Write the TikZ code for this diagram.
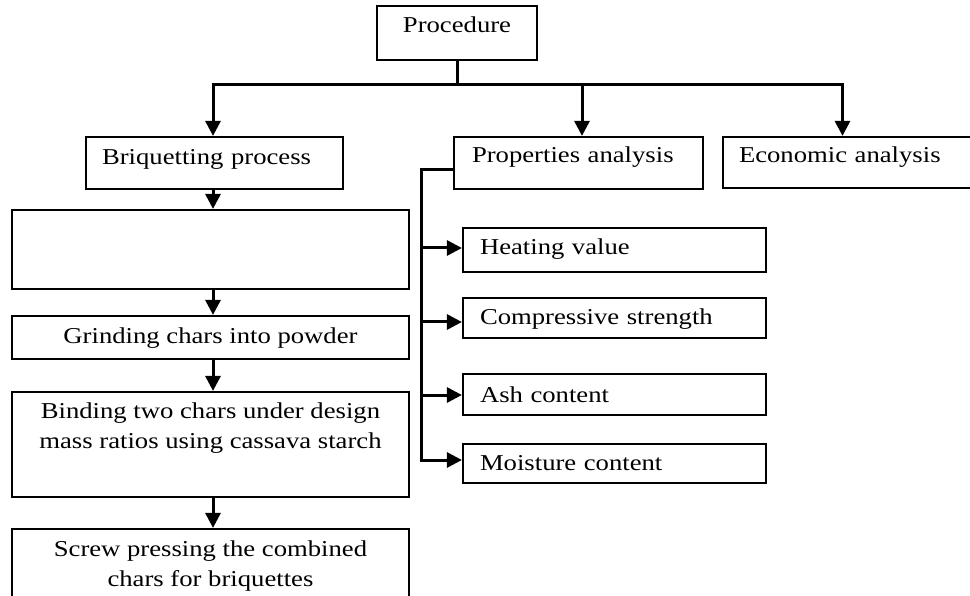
\documentclass[tikz,border=0pt]{standalone}
\usepackage{fontspec}
\setmainfont{Liberation Serif}[FakeStretch=1.175]
\usetikzlibrary{arrows.meta}
\newcommand\tf{\fontsize{22.7}{30.5}\selectfont}
\tikzset{
  box/.style={draw, line width=2.2pt, rectangle, inner ysep=0pt, font=\tf},
  lbox/.style={box, anchor=base, align=left, inner xsep=17pt, text width=#1},
  txtblk/.style={inner sep=0pt, font=\tf, align=center, anchor=north},
  conn/.style={line width=3pt},
  arr/.style={line width=3pt, -{Triangle[length=15pt,width=15pt]}},
}
\begin{document}
\begin{tikzpicture}[x=1pt,y=-1pt]
\useasboundingbox[fill=white] (0,0) rectangle (970,596);

% top level
\node[box, anchor=base, inner xsep=0pt, minimum width=160pt, text height=27pt, text depth=27pt] (proc) at (457,33) {Procedure};

\node[lbox=225pt, inner xsep=16pt, text height=28pt, text depth=24pt] (briq) at (214.5,165) {Briquetting process};
\node[lbox=213pt, inner xsep=18pt, text height=26pt, text depth=26pt] (prop) at (578.5,163) {Properties analysis};
\node[lbox=230pt, inner xsep=16pt, text height=26pt, text depth=25pt] (econ) at (854,163) {Economic analysis};

% left column
\node[box, minimum width=397pt, minimum height=79pt, inner sep=0pt] (blank) at (210.5,249.5) {};
\node[box, anchor=base, inner xsep=0pt, minimum width=397pt, text height=27pt, text depth=16pt] (grind) at (210.5,343) {Grinding chars into powder};
\node[box, minimum width=397pt, minimum height=105pt, inner sep=0pt] (bind) at (210.5,444.5) {};
\node[txtblk] (bindtxt) at (210.5,402.5) {Binding two chars under design\\mass ratios using cassava starch};
\node[box, minimum width=397pt, minimum height=90pt, inner sep=0pt] (screw) at (210.5,574) {};
\node[txtblk] (screwtxt) at (210.5,540.5) {Screw pressing the combined\\chars for briquettes};

% properties items
\node[lbox=269pt, text height=27pt, text depth=17pt] (heat) at (614.5,255) {Heating value};
\node[lbox=269pt, text height=27pt, text depth=13pt] (comp) at (614.5,325) {Compressive strength};
\node[lbox=269pt, text height=28pt, text depth=13pt] (ash) at (614.5,402) {Ash content};
\node[lbox=269pt, text height=26pt, text depth=13pt] (moist) at (614.5,470) {Moisture content};

% top connectors
\coordinate (hub) at (457,85);
\coordinate (busL) at (213,85);
\coordinate (busM) at (582,85);
\coordinate (busR) at (842.5,85);
\draw[conn] (proc.south) -- (hub);
\draw[conn] ([xshift=-1.5pt]busL) -- ([xshift=1.5pt]busR);
\draw[arr] (busL) -- (busL |- briq.north);
\draw[arr] (busM) -- (busM |- prop.north);
\draw[arr] (busR) -- (busR |- econ.north);

% left column connectors
\coordinate (colx) at (213,0);
\draw[arr] (colx |- briq.south) -- (colx |- blank.north);
\draw[arr] (colx |- blank.south) -- (colx |- grind.north);
\draw[arr] (colx |- grind.south) -- (colx |- bind.north);
\draw[arr] (colx |- bind.south) -- (colx |- screw.north);

% properties branch
\coordinate (pa) at (423,170);
\coordinate (b1) at (423,248);
\coordinate (b2) at (423,322);
\coordinate (b3) at (423,395);
\coordinate (b4) at (423,460);
\draw[conn] (prop.west |- pa) -- ([xshift=-1.5pt]pa) -- ([xshift=-1.5pt,yshift=-1.5pt]b4);
\draw[arr] ([xshift=-3pt]b1) -- (b1 -| heat.west);
\draw[arr] ([xshift=-3pt]b2) -- (b2 -| comp.west);
\draw[arr] ([xshift=-3pt]b3) -- (b3 -| ash.west);
\draw[arr] ([xshift=-3pt]b4) -- (b4 -| moist.west);
\end{tikzpicture}
\end{document}
